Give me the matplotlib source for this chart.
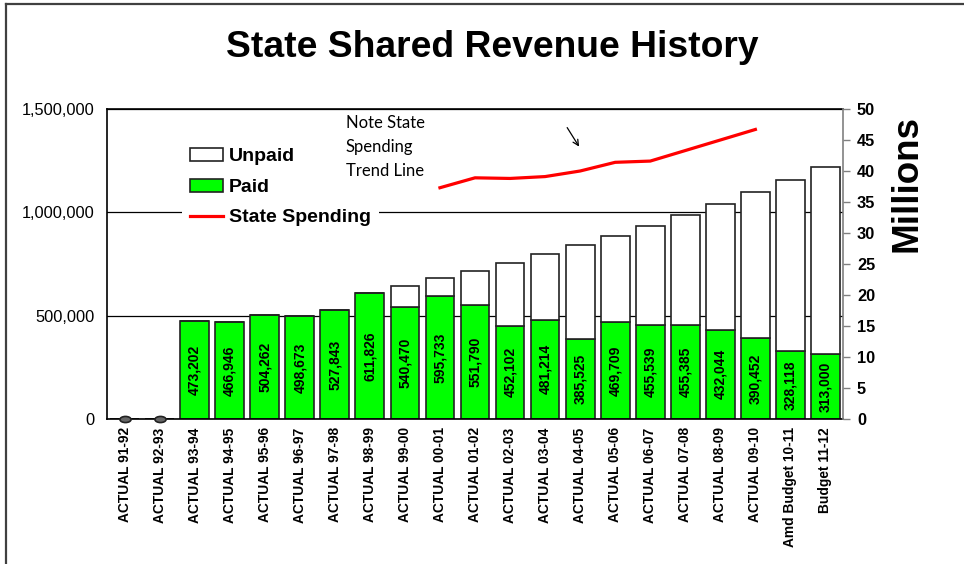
import numpy as np
import matplotlib
matplotlib.use("Agg")
import matplotlib.pyplot as plt
from matplotlib.patches import Patch
from matplotlib.lines import Line2D
from matplotlib.markers import MarkerStyle
from matplotlib.path import Path
from matplotlib.transforms import Affine2D
from matplotlib.ticker import FuncFormatter, MultipleLocator

plt.rcParams['font.family'] = ['Liberation Sans', 'DejaVu Sans']

# Datos
anios = ["ACTUAL 91-92", "ACTUAL 92-93", "ACTUAL 93-94", "ACTUAL 94-95", "ACTUAL 95-96",
         "ACTUAL 96-97", "ACTUAL 97-98", "ACTUAL 98-99", "ACTUAL 99-00", "ACTUAL 00-01",
         "ACTUAL 01-02", "ACTUAL 02-03", "ACTUAL 03-04", "ACTUAL 04-05", "ACTUAL 05-06",
         "ACTUAL 06-07", "ACTUAL 07-08", "ACTUAL 08-09", "ACTUAL 09-10",
         "Amd Budget 10-11", "Budget 11-12"]
pagado = [0, 0, 473202, 466946, 504262, 498673, 527843, 611826, 540470, 595733,
          551790, 452102, 481214, 385525, 469709, 455539, 455385, 432044, 390452,
          328118, 313000]
no_pagado = [0, 0, 0, 0, 0, 0, 0, 0, 105000, 86000,
             165000, 304000, 317000, 456000, 417000, 480000, 530000, 610000, 707000,
             830000, 906000]
# gasto estatal en millones (solo 00-01 a 09-10)
gasto_estatal = [np.nan] * 9 + [37.3, 38.9, 38.8, 39.1, 40.0, 41.4, 41.6, 43.3, 45.0, 46.7, np.nan, np.nan]

x = np.arange(len(anios))
ancho = 0.82

fig = plt.figure(figsize=(9.64, 5.64), dpi=100)
ax = fig.add_axes([107 / 964, 1 - 419 / 564, 736 / 964, 310 / 564])

# Barras
b_pag = ax.bar(x, pagado, ancho, color="#00FF00", edgecolor="#222222", linewidth=1.2, zorder=2)
b_nop = ax.bar(x, no_pagado, ancho, bottom=pagado, color="white", edgecolor="#222222",
               linewidth=1.2, zorder=2)
etiquetas = [f"{v:,}" if v > 0 else "" for v in pagado]
ax.bar_label(b_pag, labels=etiquetas, label_type="center", rotation=90,
             fontsize=10, fontweight="bold")

# marcadores de valor cero
elipse = Path.unit_circle().transformed(Affine2D().scale(1, 0.55))
ceros = [i for i, v in enumerate(pagado) if v == 0]
ax.plot(ceros, [0] * len(ceros), linestyle="none", marker=MarkerStyle(elipse),
        markersize=8, markerfacecolor="#666666", markeredgecolor="#222222",
        markeredgewidth=1.2, clip_on=False, zorder=5)

ax.set_xlim(-0.5, len(anios) - 0.5)
ax.set_ylim(0, 1500000)
ax.yaxis.set_major_locator(MultipleLocator(500000))
ax.yaxis.set_major_formatter(FuncFormatter(lambda v, p: f"{int(v):,}"))
ax.yaxis.grid(True, color="black", linewidth=0.9)
ax.set_axisbelow(True)
ax.set_xticks(x)
ax.set_xticklabels(anios, rotation=90, fontsize=9.9, fontweight="bold")
ax.tick_params(axis="x", length=0, pad=6)
ax.tick_params(axis="y", length=0, pad=9, labelsize=11.8)
for s in ["left", "top", "bottom"]:
    ax.spines[s].set_color("black")
    ax.spines[s].set_linewidth(1.2)
ax.spines["right"].set_visible(False)

# Eje derecho: gasto estatal
ax2 = ax.twinx()
ax2.plot(x, gasto_estatal, color="#FF0000", linewidth=2.3, zorder=3)
ax2.set_ylim(0, 50)
ax2.yaxis.set_major_locator(MultipleLocator(5))
ax2.tick_params(axis="y", length=5, width=1, color="#808080", pad=5, labelsize=11.8)
for lab in ax2.get_yticklabels():
    lab.set_fontweight("bold")
ax2.spines["right"].set_color("#808080")
ax2.spines["right"].set_linewidth(1.2)
for s in ["left", "top", "bottom"]:
    ax2.spines[s].set_visible(False)
ax2.text(1.087, 0.76, "Millions", transform=ax2.transAxes, rotation=90,
         ha="center", va="center", fontsize=26.5, fontweight="bold")

# Leyenda
manijas = [Patch(facecolor="white", edgecolor="#222222", linewidth=1.2),
           Patch(facecolor="#00FF00", edgecolor="#222222", linewidth=1.2),
           Line2D([0], [0], color="#FF0000", linewidth=2.3)]
leg = ax2.legend(manijas, ["Unpaid", "Paid", "State Spending"], loc="upper left",
                 bbox_to_anchor=(0.102, 0.899), frameon=True, fancybox=False,
                 framealpha=1, edgecolor="none", facecolor="white",
                 prop={"weight": "bold", "size": 14}, handlelength=1.7,
                 handleheight=0.65, handletextpad=0.3, labelspacing=0.68,
                 borderpad=0.4, borderaxespad=0)
ax2.set_zorder(ax.get_zorder() + 1)
ax2.patch.set_visible(False)

# Nota (por encima de la leyenda)
fig.text(346 / 964, 1 - 115 / 564, "Note State\nSpending\nTrend Line",
         fontsize=12, family=["Lato", "DejaVu Sans"], va="top", ha="left",
         linespacing=1.6, zorder=20)
ax.annotate("", xy=(12.97, 1318000), xytext=(12.63, 1410000),
            arrowprops=dict(arrowstyle="->", color="black", lw=0.9,
                            shrinkA=0, shrinkB=0))

# Título
fig.text(492 / 964, 1 - 57 / 564, "State Shared Revenue History", ha="center", va="baseline",
         fontsize=26.8, fontweight="bold")

# Marco de la figura (borde izquierdo y superior)
fig.add_artist(Line2D([6 / 964, 6 / 964], [0, 1 - 4 / 564], transform=fig.transFigure,
                      color="#404040", linewidth=1.6))
fig.add_artist(Line2D([6 / 964, 1], [1 - 4 / 564, 1 - 4 / 564], transform=fig.transFigure,
                      color="#404040", linewidth=1.6))

fig.savefig("out.png", dpi=100)
